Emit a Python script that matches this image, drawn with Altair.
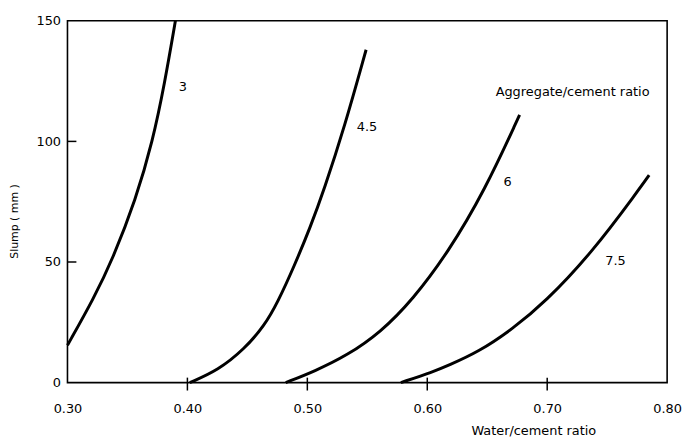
import altair as alt
import pandas as pd

# Slump vs water/cement ratio, one curve per aggregate/cement ratio
ac3_w = [0.300, 0.322, 0.3375, 0.357, 0.371, 0.381, 0.390]
ac3_s = [15.5, 35, 51, 76, 100, 124, 150]

ac45_w = [0.402, 0.4256, 0.4477, 0.4642, 0.4752, 0.489, 0.5027, 0.5138, 0.531, 0.549]
ac45_s = [0, 5.1, 14, 23.6, 33.2, 48.2, 64.7, 79.7, 106, 138]

ac6_w = [0.482, 0.506, 0.533, 0.561, 0.588, 0.617, 0.648, 0.677]
ac6_s = [0, 4.7, 11.2, 20.8, 34.5, 53.7, 79.7, 111]

ac75_w = [0.578, 0.605, 0.617, 0.643, 0.671, 0.698, 0.737, 0.776, 0.785]
ac75_s = [0, 4.5, 7, 12.8, 22.2, 33.2, 53.7, 79.7, 86]

curve_names = ["3", "4.5", "6", "7.5"]

label_text = ["3", "4.5", "6", "7.5"]
label_x = [0.3963, 0.5498, 0.6669, 0.757]
label_y = [122.5, 106, 83.1, 50.3]

note_text = ["Aggregate/cement ratio"]
note_x = [0.657]
note_y = [120.5]

x_ticks = [0.30, 0.40, 0.50, 0.60, 0.70, 0.80]
y_ticks = [0, 50, 100, 150]
x_inner_ticks = [0.40, 0.50, 0.60, 0.70]
y_inner_ticks = [50, 100]

rows = []
for name, ws, ss in zip(curve_names, [ac3_w, ac45_w, ac6_w, ac75_w], [ac3_s, ac45_s, ac6_s, ac75_s]):
    for w, s in zip(ws, ss):
        rows.append({"ratio": name, "wc": w, "slump": s})
df = pd.DataFrame(rows)

labels_df = pd.DataFrame({"t": label_text, "wc": label_x, "slump": label_y})
note_df = pd.DataFrame({"t": note_text, "wc": note_x, "slump": note_y})
xt_df = pd.DataFrame({"wc": x_inner_ticks})
yt_df = pd.DataFrame({"slump": y_inner_ticks})

W, H = 605, 365
FONT = "DejaVu Sans"

x_scale = alt.Scale(domain=[0.30, 0.80], nice=False, zero=False)
y_scale = alt.Scale(domain=[0, 150], nice=False)

x_axis = alt.Axis(
    values=x_ticks, format=".2f", tickSize=0, domain=False, grid=False,
    labelFlush=False, labelOverlap=False,
    labelPadding=20, labelFont=FONT, labelFontSize=13, labelColor="black",
    title="Water/cement ratio", titleFont=FONT, titleFontSize=13,
    titleFontWeight="normal", titleColor="black",
    titleX=470, titleY=48, titleAlign="center", titleBaseline="middle",
)
y_axis = alt.Axis(
    values=y_ticks, tickSize=0, domain=False, grid=False,
    labelFlush=False, labelOverlap=False,
    labelPadding=7, labelFont=FONT, labelFontSize=13, labelColor="black",
    title="Slump ( mm )", titleFont=FONT, titleFontSize=11,
    titleFontWeight="normal", titleColor="black",
    titleX=-53, titleY=202, titleAngle=-90, titleAlign="center",
    titleBaseline="middle",
)

X = alt.X("wc:Q", scale=x_scale, axis=x_axis)
Y = alt.Y("slump:Q", scale=y_scale, axis=y_axis)

lines = alt.Chart(df).mark_line(
    color="black", strokeWidth=3, interpolate="basis"
).encode(x=X, y=Y, detail="ratio:N")

labels = alt.Chart(labels_df).mark_text(
    font=FONT, fontSize=13, color="black", align="center", baseline="middle"
).encode(x=X, y=Y, text="t:N")

note = alt.Chart(note_df).mark_text(
    font=FONT, fontSize=13, color="black", align="left", baseline="middle"
).encode(x=X, y=Y, text="t:N")

xticks = alt.Chart(xt_df).mark_rule(color="black", strokeWidth=1.5).encode(
    x=X, y=alt.value(H - 5), y2=alt.value(H + 8),
)

yticks = alt.Chart(yt_df).mark_rule(color="black", strokeWidth=1.5).encode(
    y=Y, x=alt.value(0), x2=alt.value(9),
)

chart = alt.layer(lines, labels, note, xticks, yticks).properties(
    width=W, height=H,
    padding={"left": 60, "top": 11, "right": 15, "bottom": 56},
    autosize=alt.AutoSizeParams(type="none"),
    background="white",
).configure_view(stroke="black", strokeWidth=1.6)

chart.save("out.html", embed_options={"renderer": "svg", "actions": False})
